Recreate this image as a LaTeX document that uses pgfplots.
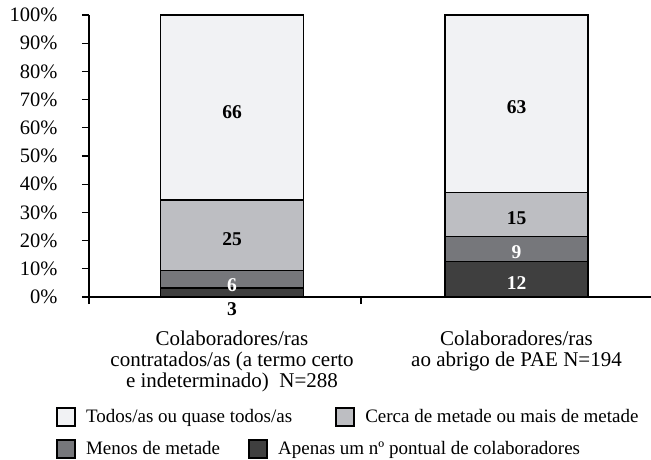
\documentclass[border=0pt]{standalone}
\usepackage{pgfplots}
\pgfplotsset{compat=1.18}
\usepackage{fontspec}
\setmainfont{Liberation Serif}
\definecolor{cTodos}{HTML}{F1F2F4}
\definecolor{cCerca}{HTML}{BDBEC2}
\definecolor{cMenos}{HTML}{76777B}
\definecolor{cApenas}{HTML}{3F3F3F}
\newcommand{\fs}{\fontsize{19bp}{21bp}\selectfont}
\newcommand{\fc}{\fontsize{21bp}{20.8bp}\selectfont}
\newcommand{\ft}{\fontsize{20.5bp}{21bp}\selectfont}
\newcommand{\fd}{\fontsize{19.5bp}{21bp}\selectfont}
\pgfplotsset{
  geom/.style={
    at={(0,0)}, anchor=south west,
    scale only axis, width=562bp, height=282bp,
    xmin=89, xmax=651, ymin=0, ymax=100,
  },
}
\begin{document}
\begin{tikzpicture}
\useasboundingbox (-89bp,-163bp) rectangle (562bp,297bp);
% main bars
\begin{axis}[
  geom,
  ybar stacked, bar width=143,
  axis x line=bottom, axis y line=left,
  axis line style={-, line width=1.2bp, black},
  tick align=outside, major tick length=7bp,
  tick style={black, line width=1.2bp},
  xtick={89,361}, xticklabels={,},
  extra x ticks={232,516.5},
  extra x tick labels={{Colaboradores/ras\\contratados/as (a termo certo\\e indeterminado)\ \ N=288},{Colaboradores/ras\\ao abrigo de PAE N=194}},
  extra x tick style={major tick length=0pt},
  xticklabel style={font=\fc, align=center, anchor=north, yshift=-30.5bp},
  ytick={0,10,...,100},
  yticklabels={0\%,10\%,20\%,30\%,40\%,50\%,60\%,70\%,80\%,90\%,100\%},
  yticklabel style={font=\ft, xshift=-21bp},
]
\addplot[fill=cApenas, draw=black, line width=1.1bp] coordinates {(232,3.2) (516.5,12.5)};
\addplot[fill=cMenos, draw=black, line width=1.1bp] coordinates {(232,6.1) (516.5,8.9)};
\addplot[fill=cCerca, draw=black, line width=1.1bp] coordinates {(232,25.1) (516.5,15.5)};
\addplot[fill=cTodos, draw=black, line width=1.1bp] coordinates {(232,65.6) (516.5,63.1)};
\end{axis}
% data labels + legend row 1
\begin{axis}[
  geom, hide axis, clip=false,
  legend columns=2,
  legend image code/.code={\draw[#1, draw=black, line width=1.8bp] (0bp,-9bp) rectangle (18bp,9bp);\path (27bp,0bp);},
  legend style={draw=none, fill=none, inner sep=0pt, outer sep=0pt, font=\fs,
    at={(axis description cs:-0.0587,-0.4255)}, anchor=west,
    /tikz/every even column/.append style={column sep=41bp}},
]
\addplot[forget plot, draw=none, nodes near coords, point meta=explicit symbolic,
  every node near coord/.append style={anchor=center, font=\fd\bfseries, text=black}]
  coordinates {(232,65.7)[66] (232,20.6)[25] (516.5,67.5)[63] (516.5,28)[15] (232,-4.4)[3]};
\addplot[forget plot, draw=none, nodes near coords, point meta=explicit symbolic,
  every node near coord/.append style={anchor=center, font=\fd\bfseries, text=white}]
  coordinates {(232,4.3)[6] (516.5,16)[9] (516.5,5)[12]};
\addlegendimage{fill=cTodos}
\addlegendentry{Todos/as ou quase todos/as}
\addlegendimage{fill=cCerca}
\addlegendentry{Cerca de metade ou mais de metade}
\end{axis}
% legend row 2
\begin{axis}[
  geom, hide axis,
  legend columns=2,
  legend image code/.code={\draw[#1, draw=black, line width=1.8bp] (0bp,-9bp) rectangle (18bp,9bp);\path (27bp,0bp);},
  legend style={draw=none, fill=none, inner sep=0pt, outer sep=0pt, font=\fs,
    at={(axis description cs:-0.0587,-0.539)}, anchor=west,
    /tikz/every even column/.append style={column sep=26bp}},
]
\addlegendimage{fill=cMenos}
\addlegendentry{Menos de metade}
\addlegendimage{fill=cApenas}
\addlegendentry{Apenas um nº pontual de colaboradores}
\end{axis}
\end{tikzpicture}
\end{document}
